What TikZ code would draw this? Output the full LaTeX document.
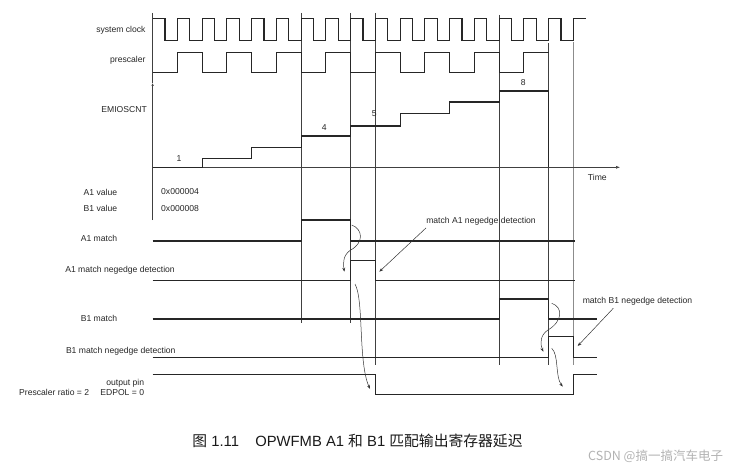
\documentclass[tikz,border=0pt]{standalone}
\usepackage{fontspec}
\setmainfont{Liberation Sans}
\newfontfamily\cjkfont{Noto Sans CJK SC}
\usetikzlibrary{arrows.meta,calc}

\tikzset{
  wave/.style={line width=1.1pt, black!85},
  guide/.style={line width=0.5pt, black!75},
  lbl/.style={inner sep=0pt, text=black!85, font=\fontsize{8.6}{10.3}\selectfont},
  cause/.style={line width=0.5pt, black!80, -{Stealth[length=4pt,width=3pt]}},
}

\begin{document}
\begin{tikzpicture}[x=1pt,y=-1pt]
	\useasboundingbox (0,0) rectangle (735,468);
	\def\xo{152.6}
	\def\hp{12.375}
	% guide lines
	\foreach \x/\ya/\yb in {301.1/13/323, 350.6/13/323, 375.35/13/365, 499.1/15/365, 548.6/43/365}
		\draw[guide] (\x,\ya) -- (\x,\yb);
	\draw[guide,black!45] (573.35,42) -- (573.35,365);
	% axes
	\draw[guide] (\xo,13) -- (\xo,83);
	\draw[guide,-{Latex[length=3pt,width=2.5pt]}] (\xo,220) -- (\xo,83);
	\draw[guide,-{Latex[length=4pt,width=3pt]}] (\xo,167.3) -- (620,167.3);
	% clock and prescaler
	\draw[wave] (\xo,18.3) \foreach \i in {1,...,17} { -- ++(\hp,0) -- ++(0,22.4) -- ++(\hp,0) -- ++(0,-22.4) } -- ++(\hp,0);
	\draw[wave] (\xo,72.3) \foreach \i in {1,...,7} { -- ++(24.75,0) -- ++(0,-19.6) -- ++(24.75,0) -- ++(0,19.6) } -- ++(24.75,0) -- ++(0,-19.6) -- ++(24.75,0);
	% counter
	\draw[wave] (\xo,167.3) -- (202.1,167.3) |- (251.6,158.3) |- (301.1,147.7) |- (350.6,136) |- (400.1,126) |- (449.6,113.3) |- (499.1,102) |- (548.6,91) -- (548.6,167.3);
	% match signals
	\draw[wave] (\xo,241) -| (301.1,220) -| (350.6,241) -- (575,241);
	\draw[wave] (\xo,280.7) -| (350.6,260.7) -| (375.35,280.7) -- (575,280.7);
	\draw[wave] (\xo,319) -| (499.1,299) -| (548.6,319) -- (596.7,319);
	\draw[wave] (\xo,357.7) -| (548.6,336.7) -| (573.35,357.7) -- (596.7,357.7);
	\draw[wave] (\xo,374.3) -| (375.35,394.7) -| (573.35,374.3) -- (596.7,374.3);

	% labels
	\node[lbl,anchor=east] (clk) at (145.7,30) {system clock};
	\node[lbl,anchor=east] (psc) at (145.7,60) {prescaler};
	\node[lbl,anchor=east] (cnt) at (147,109.3) {EMIOSCNT};
	\node[lbl] (time) at (597.3,177.3) {Time};
	\node[lbl] (c1) at (179,159) {1};
	\node[lbl] (c4) at (324.3,127.3) {4};
	\node[lbl] (c5) at (374.3,113.3) {5};
	\node[lbl] (c8) at (523.3,82.7) {8};
	\node[lbl,anchor=east] (aval) at (117.3,192) {A1 value};
	\node[lbl,anchor=east] (bval) at (117.3,208.7) {B1 value};
	\node[lbl,anchor=west] (avalnum) at (161,192) {0x000004};
	\node[lbl,anchor=west] (bvalnum) at (161,208.7) {0x000008};
	\node[lbl,anchor=east] (amatch) at (117.3,238.3) {A1 match};
	\node[lbl,anchor=east] (aneg) at (175,270) {A1 match negedge detection};
	\node[lbl,anchor=east] (bmatch) at (117.3,318.7) {B1 match};
	\node[lbl,anchor=east] (bneg) at (175.7,351.7) {B1 match negedge detection};
	\node[lbl,anchor=east,align=right] (outpin) at (144.3,387.5) {output pin\\Prescaler ratio = 2\hspace{1.3em}EDPOL = 0};
	\node[lbl] (notea) at (481,221.7) {match A1 negedge detection};
	\node[lbl] (noteb) at (637.5,301) {match B1 negedge detection};

	% arrows
	\coordinate (tipa) at (379.3,271.7);
	\coordinate (tipb) at (577.7,346);
	\draw[cause] ($(notea.south west)+(0,2)$) -- (tipa);
	\draw[cause] ($(noteb.south west)!0.28!(noteb.south east)+(0,3)$) -- (tipb);
	\coordinate (afall) at (351.7,225);
	\coordinate (arise) at (344.3,271.7);
	\coordinate (aout) at (355,284);
	\coordinate (afallout) at (370,389);
	\draw[cause] (afall) .. controls (363,229) and (364,243) .. (350.7,250) .. controls (343,255) and (343,263) .. (arise);
	\draw[cause] (aout) .. controls (364,300) and (358,362) .. (afallout);
	\coordinate (bfall) at (551.7,303.3);
	\coordinate (brise) at (543.3,351.7);
	\coordinate (bout) at (551.7,348.3);
	\coordinate (briseout) at (562.7,386.7);
	\draw[cause] (bfall) .. controls (563,307) and (563,321) .. (548,330) .. controls (540,335) and (540,344) .. (brise);
	\draw[cause] (bout) .. controls (559,355) and (555,376) .. (briseout);

	% caption
	\node[inner sep=0pt, text=black!90, font=\fontsize{14.8}{17}\selectfont] (caption) at (357.5,440.5)
		{{\cjkfont 图} 1.11\hspace{1.1em}OPWFMB A1 {\cjkfont 和} B1 {\cjkfont 匹配输出寄存器延迟}};
	\node[inner sep=0pt, text=black!30, font=\cjkfont\fontsize{12.5}{14}\selectfont] (mark) at (655.6,456) {CSDN @搞一搞汽车电子};
\end{tikzpicture}
\end{document}
